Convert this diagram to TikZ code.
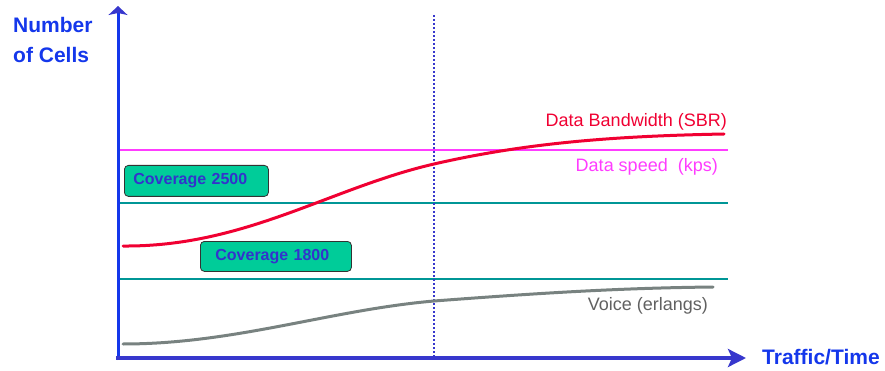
\documentclass[tikz,border=0pt]{standalone}
\usepackage{fontspec}
\setmainfont{Liberation Sans}
\usetikzlibrary{arrows.meta}
\definecolor{axblue}{RGB}{20,55,235}
\definecolor{axpurple}{RGB}{55,55,205}
\definecolor{bwred}{RGB}{240,0,50}
\definecolor{spmag}{RGB}{255,60,255}
\definecolor{covteal}{RGB}{0,150,150}
\definecolor{voicegray}{RGB}{120,130,128}
\definecolor{boxgreen}{RGB}{0,204,153}
\definecolor{boxtext}{RGB}{51,51,204}
\tikzset{
  yaxisline/.style={draw=axblue, line width=3pt, -{Stealth[length=9pt,width=19pt,inset=2pt,color=axpurple]}},
  xaxisline/.style={draw=axpurple, line width=3.5pt, -{Stealth[length=18pt,width=18pt,inset=4pt]}},
  dotline/.style={draw=axpurple, line width=2pt, dash pattern=on 2pt off 2pt},
  hline/.style={line width=2.8pt},
  curve/.style={line width=3pt, line cap=round},
  axlabel/.style={text=axblue, font=\fontsize{21}{30}\selectfont\bfseries, inner sep=0pt},
  serieslabel/.style={font=\fontsize{18}{20}\selectfont, inner sep=0pt, anchor=base east},
  covbox/.style={draw=black!80, line width=0.8pt, fill=boxgreen, rounded corners=4pt,
    text=boxtext, font=\fontsize{16}{18}\selectfont\bfseries, align=left,
    minimum height=31pt, inner ysep=0pt, anchor=north west},
}
\begin{document}
\begin{tikzpicture}[x=1pt,y=-1pt]
\useasboundingbox (0,0) rectangle (885,371);
% coordinates
\coordinate (O) at (118,360);
\coordinate (Ytop) at (118,6);
\coordinate (Xstart) at (116,358);
\coordinate (Xend) at (746,358);
\coordinate (Dtop) at (434,15);
\coordinate (Dbot) at (434,358);
\coordinate (M1) at (118,150); \coordinate (M2) at (728,150);
\coordinate (T1) at (118,203); \coordinate (T2) at (728,203);
\coordinate (U1) at (118,279); \coordinate (U2) at (728,279);
% horizontal levels
\draw[hline, draw=spmag, line width=2.5pt] (M1) -- (M2);
\draw[hline, draw=covteal] (T1) -- (T2);
\draw[hline, draw=covteal] (U1) -- (U2);
% dotted vertical
\draw[dotline] (Dtop) -- (Dbot);
% curves
\draw[curve, draw=bwred] (123,246) .. controls (245,247) and (330,188) .. (434,164)
  .. controls (530,142) and (620,136) .. (724,134);
\draw[curve, draw=voicegray] (123,344) .. controls (235,344) and (330,310) .. (434,301)
  .. controls (540,293) and (620,288) .. (713,287);
% axes
\draw[yaxisline] (O) -- (Ytop);
\draw[xaxisline] (Xstart) -- (Xend);
% labels
\node[axlabel, anchor=north west, align=left] (ylab) at (13,17.5) {Number\\of Cells};
\node[axlabel, anchor=base west] (xlab) at (762,364) {Traffic/Time};
\node[serieslabel, text=bwred] (bwlab) at (727,127) {Data Bandwidth (SBR)};
\node[serieslabel, text=spmag] (splab) at (718,172) {Data speed\ \ (kps)};
\node[serieslabel, text=black!62] (vlab) at (708,310) {Voice (erlangs)};
% coverage boxes
\node[covbox, inner xsep=9pt, text width=126pt] (c2500) at (124,165) {Coverage 2500};
\node[covbox, inner xsep=15pt, text width=121pt, minimum height=30pt] (c1800) at (200,241) {Coverage 1800};
\end{tikzpicture}
\end{document}
